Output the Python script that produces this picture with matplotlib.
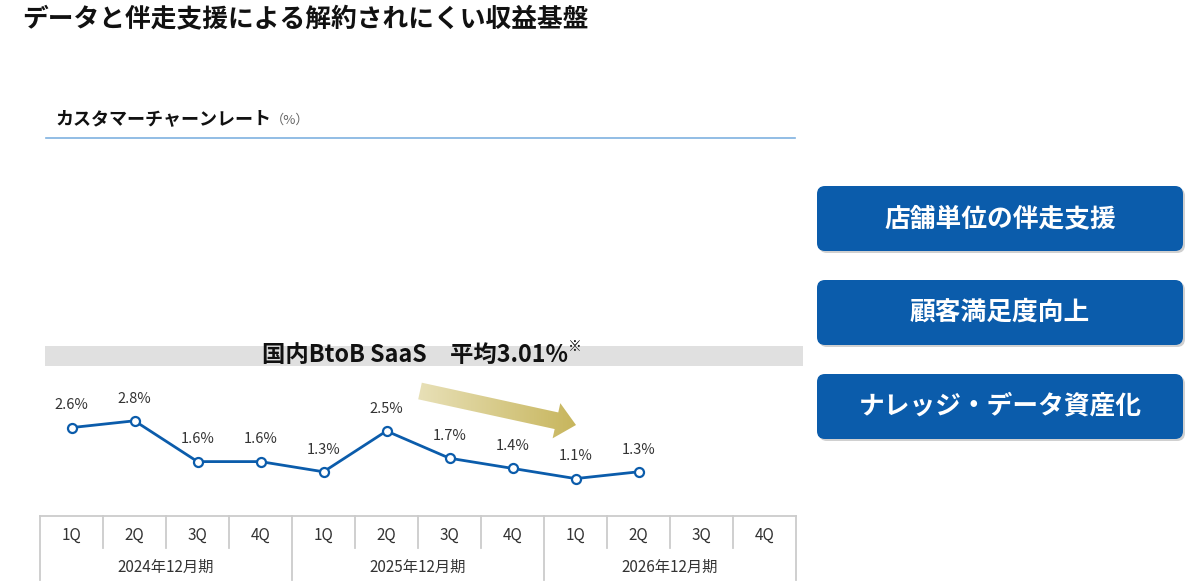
import numpy as np
import matplotlib
matplotlib.use("Agg")
import matplotlib.pyplot as plt
from matplotlib.patches import FancyBboxPatch, FancyArrow, Rectangle

plt.rcParams["font.family"] = ["Noto Sans CJK JP", "DejaVu Sans"]

# data
quarters = ["1Q", "2Q", "3Q", "4Q"] * 3
periods = ["2024年12月期", "2025年12月期", "2026年12月期"]
churn = [2.6, 2.8, 1.6, 1.6, 1.3, 2.5, 1.7, 1.4, 1.1, 1.3]
churn_labels = ["2.6%", "2.8%", "1.6%", "1.6%", "1.3%", "2.5%", "1.7%", "1.4%", "1.1%", "1.3%"]
buttons = ["店舗単位の伴走支援", "顧客満足度向上", "ナレッジ・データ資産化"]

W, H = 1200, 587
fig = plt.figure(figsize=(W / 100, H / 100), dpi=100)

# background axes in pixel coordinates
bg = fig.add_axes([0, 0, 1, 1])
bg.set_xlim(0, W)
bg.set_ylim(H, 0)
bg.axis("off")

bg.text(22, 20, "データと伴走支援による解約されにくい収益基盤", fontsize=18.5,
        fontweight="bold", color="#111111", va="center", ha="left")
sub = bg.text(55, 119, "カスタマーチャーンレート", fontsize=13, fontweight="bold",
              color="#111111", va="center", ha="left")
bg.annotate("（%）", xy=(1, 0.45), xycoords=sub, fontsize=9.5, color="#666666",
            va="center", ha="left")
bg.plot([46, 795], [138, 138], color="#7fb2e0", lw=1.2)

# gray benchmark band
bg.add_patch(Rectangle((45, 346), 758, 20, color="#e0e0e0", lw=0))
avg = bg.text(415, 355, "国内BtoB SaaS　平均3.01%", fontsize=16.8, fontweight="bold",
              color="#111111", ha="center", va="center")
bg.annotate("※", xy=(1, 0.85), xycoords=avg, fontsize=10, color="#111111",
            ha="left", va="center")

# gradient arrow
arr = FancyArrow(420, 391, 156, 34, width=17, head_width=36, head_length=20,
                 length_includes_head=True, lw=0, fc="none")
bg.add_patch(arr)
c0 = np.array([0.91, 0.88, 0.72])
c1 = np.array([0.78, 0.71, 0.36])
g = np.linspace(0, 1, 256)
grad = c0[None, None, :] * (1 - g[None, :, None]) + c1[None, None, :] * g[None, :, None]
grad = np.repeat(grad, 4, axis=0)
im = bg.imshow(grad, extent=(418, 578, 450, 378), aspect="auto", zorder=2)
im.set_clip_path(arr)

# table under the chart
x0, cw = 40, 63
top, mid, bot = 516, 548, 580
lc = "#cccccc"
bg.plot([x0, x0 + 12 * cw], [top, top], color=lc, lw=1.3)
for i in range(13):
    x = x0 + i * cw
    if i % 4 == 0:
        bg.plot([x, x], [top, bot], color=lc, lw=1.3)
    else:
        bg.plot([x, x], [top, mid], color=lc, lw=1.3)
for i, q in enumerate(quarters):
    bg.text(x0 + cw * (i + 0.5), 535, q, fontsize=11, color="#333333",
            ha="center", va="center")
for i, p in enumerate(periods):
    bg.text(x0 + cw * (4 * i + 2), 567, p, fontsize=11, color="#333333",
            ha="center", va="center")

# right-hand buttons
for lab, (y0, y1) in zip(buttons, [(186, 251), (280, 345), (374, 439)]):
    shadow = FancyBboxPatch((819, y0 + 2), 366, y1 - y0, boxstyle="round,pad=0,rounding_size=8",
                            fc="#d0d0d0", ec="none", zorder=1)
    box = FancyBboxPatch((817, y0), 366, y1 - y0, boxstyle="round,pad=0,rounding_size=8",
                         fc="#0b5cab", ec="none", zorder=2)
    bg.add_patch(shadow)
    bg.add_patch(box)
    bg.text(1000, (y0 + y1) / 2, lab, fontsize=18.5, fontweight="bold", color="white",
            ha="center", va="center", zorder=3)

# line chart
ax = fig.add_axes([x0 / W, (H - top) / H, 12 * cw / W, 170 / H])
ax.set_xlim(-0.5, 11.5)
ax.set_ylim(0, 5)
ax.axis("off")
ax.patch.set_alpha(0)
xs = np.arange(len(churn))
ax.plot(xs, churn, color="#0b5cab", lw=2, marker="o", ms=6.5, mfc="white",
        mec="#0b5cab", mew=1.6, zorder=3)
for x, v, s in zip(xs, churn, churn_labels):
    ax.annotate(s, (x, v), xytext=(0, 16), textcoords="offset points", ha="center",
                va="center", fontsize=10.5, color="#333333")

fig.savefig("out.png", dpi=100)
